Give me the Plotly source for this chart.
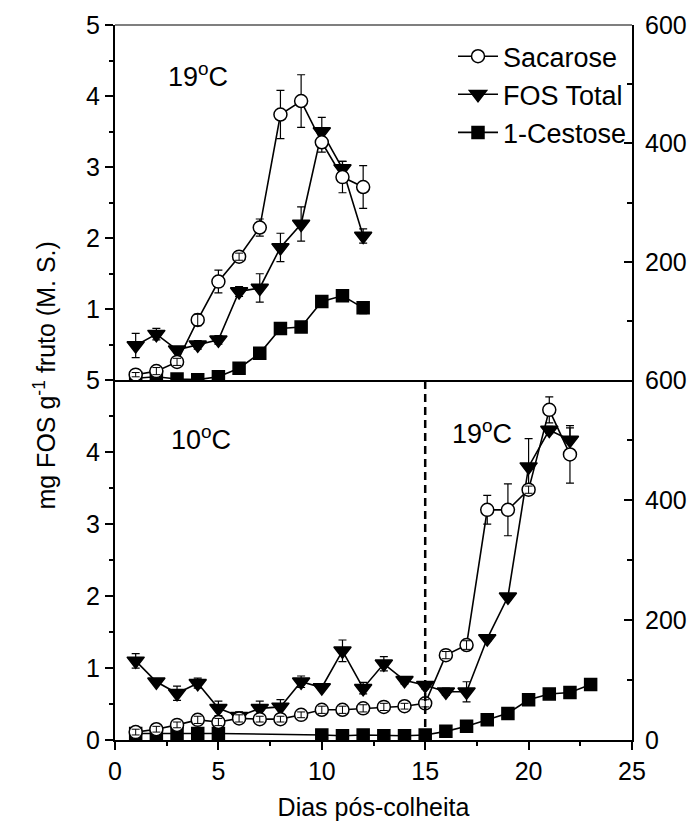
import plotly.graph_objects as go

# ---------------- data: 19 °C storage (upper panel) ----------------
days_top = [1, 2, 3, 4, 5, 6, 7, 8, 9, 10, 11, 12]
sacarose_top = [0.08, 0.13, 0.26, 0.85, 1.39, 1.74, 2.15, 3.74, 3.93, 3.35, 2.86, 2.72]
sacarose_top_err = [0.03, 0.05, 0.05, 0.08, 0.16, 0.05, 0.12, 0.34, 0.37, 0.14, 0.22, 0.30]
fos_top = [0.49, 0.65, 0.43, 0.50, 0.57, 1.25, 1.30, 1.87, 2.20, 3.50, 2.98, 2.03]
fos_top_err = [0.17, 0.08, 0.04, 0.06, 0.06, 0.07, 0.20, 0.20, 0.24, 0.20, 0.10, 0.10]
cestose_top = [0.03, 0.05, 0.02, 0.01, 0.05, 0.17, 0.38, 0.73, 0.75, 1.11, 1.19, 1.02]
cestose_top_err = [0.0, 0.0, 0.0, 0.0, 0.0, 0.0, 0.0, 0.03, 0.0, 0.04, 0.03, 0.08]

# ---------------- data: 10 °C then 19 °C (lower panel) ----------------
days_bot = [1, 2, 3, 4, 5, 6, 7, 8, 9, 10, 11, 12, 13, 14, 15, 16, 17, 18, 19, 20, 21, 22]
sacarose_bot = [0.11, 0.15, 0.21, 0.28, 0.25, 0.30, 0.29, 0.29, 0.35, 0.42, 0.42, 0.44,
                0.46, 0.47, 0.51, 1.18, 1.32, 3.20, 3.20, 3.48, 4.59, 3.97]
sacarose_bot_err = [0.04, 0.04, 0.04, 0.05, 0.05, 0.05, 0.04, 0.04, 0.04, 0.05, 0.05, 0.05,
                    0.05, 0.04, 0.05, 0.05, 0.06, 0.20, 0.36, 0.05, 0.18, 0.40]
fos_bot = [1.10, 0.81, 0.65, 0.79, 0.44, 0.33, 0.44, 0.46, 0.81, 0.73, 1.24, 0.72,
           1.06, 0.83, 0.76, 0.67, 0.67, 1.41, 1.99, 3.80, 4.31, 4.17]
fos_bot_err = [0.10, 0.03, 0.10, 0.07, 0.10, 0.06, 0.10, 0.10, 0.08, 0.03, 0.15, 0.08,
               0.10, 0.05, 0.05, 0.05, 0.14, 0.04, 0.03, 0.39, 0.05, 0.17]
days_cestose_bot = [1, 2, 3, 4, 5, 10, 11, 12, 13, 14, 15, 16, 17, 18, 19, 20, 21, 22, 23]
cestose_bot = [0.09, 0.09, 0.09, 0.09, 0.09, 0.07, 0.06, 0.07, 0.06, 0.06, 0.07, 0.12,
               0.19, 0.28, 0.37, 0.56, 0.64, 0.66, 0.77]

transfer_day = 15  # fruit moved from 10 °C to 19 °C

FONT = "Liberation Sans, Arial, sans-serif"
BLACK = "black"

fig = go.Figure()


def add_series(x, y, err, name, symbol, fill, size, xa, ya, legend):
    fig.add_trace(go.Scatter(
        x=x, y=y, name=name, mode="lines+markers", showlegend=legend,
        xaxis=xa, yaxis=ya,
        line=dict(color=BLACK, width=1.6),
        marker=dict(symbol=symbol, size=size, color=fill,
                    line=dict(color=BLACK, width=1.5)),
        error_y=dict(type="data", array=err, visible=err is not None,
                     color=BLACK, thickness=1.2, width=4),
    ))


def add_inner_bars(x, y, err, xa, ya, limit=0.09):
    # short error bars stay visible inside the open circles
    sel = [i for i, e in enumerate(err) if e < limit]
    fig.add_trace(go.Scatter(
        x=[x[i] for i in sel], y=[y[i] for i in sel], mode="markers",
        showlegend=False, hoverinfo="skip", xaxis=xa, yaxis=ya,
        marker=dict(size=2, color="rgba(0,0,0,0)"),
        error_y=dict(type="data", array=[err[i] for i in sel], visible=True,
                     color=BLACK, thickness=1, width=4),
    ))


# upper panel (x2 / y2)
add_series(days_top, cestose_top, cestose_top_err, "1-Cestose", "square", BLACK, 12, "x2", "y2", True)
add_series(days_top, fos_top, fos_top_err, "FOS Total", "triangle-down", BLACK, 15, "x2", "y2", True)
add_series(days_top, sacarose_top, sacarose_top_err, "Sacarose", "circle", "white", 13, "x2", "y2", True)
add_inner_bars(days_top, sacarose_top, sacarose_top_err, "x2", "y2")

# lower panel (x / y)
add_series(days_cestose_bot, cestose_bot, None, "1-Cestose", "square", BLACK, 12, "x", "y", False)
add_series(days_bot, fos_bot, fos_bot_err, "FOS Total", "triangle-down", BLACK, 15, "x", "y", False)
add_series(days_bot, sacarose_bot, sacarose_bot_err, "Sacarose", "circle", "white", 13, "x", "y", False)
add_inner_bars(days_bot, sacarose_bot, sacarose_bot_err, "x", "y")

# empty traces so the secondary (right) scales are drawn
fig.add_trace(go.Scatter(x=[], y=[], xaxis="x2", yaxis="y3", showlegend=False))
fig.add_trace(go.Scatter(x=[], y=[], xaxis="x", yaxis="y4", showlegend=False))

tick_font = dict(family=FONT, size=25, color=BLACK)
split = 0.503

common_y = dict(range=[0, 5], showline=True, linecolor=BLACK, linewidth=2,
                ticks="outside", ticklen=8, tickwidth=1.5, tickcolor=BLACK,
                showgrid=False, zeroline=False, tickfont=tick_font, automargin=False,
                minor=dict(tickmode="array", tickvals=[0.5, 1.5, 2.5, 3.5, 4.5],
                           ticks="outside", ticklen=4, tickwidth=1.5, tickcolor=BLACK,
                           showgrid=False))
common_r = dict(range=[0, 600], side="right", showline=True, linecolor=BLACK, linewidth=2,
                ticks="inside", ticklen=8, tickwidth=1.5, tickcolor=BLACK,
                ticklabelstandoff=6, automargin=False,
                showgrid=False, zeroline=False, tickfont=tick_font,
                minor=dict(tickmode="array", tickvals=[100, 300, 500],
                           ticks="inside", ticklen=5, tickwidth=1.5, tickcolor=BLACK,
                           showgrid=False))

fig.update_layout(
    width=697, height=840,
    margin=dict(l=115, r=65, t=25, b=100),
    paper_bgcolor="white", plot_bgcolor="white",
    font=dict(family=FONT, color=BLACK),
    showlegend=True,
    legend=dict(x=1.0, xanchor="right", y=0.99, yanchor="top",
                traceorder="reversed", bgcolor="rgba(0,0,0,0)",
                font=dict(family=FONT, size=27, color=BLACK),
                itemwidth=40, tracegroupgap=0),
    xaxis=dict(domain=[0, 1], anchor="y", range=[0, 25],
               tickmode="linear", tick0=0, dtick=5, automargin=False,
               showline=True, linecolor=BLACK, linewidth=2,
               ticks="outside", ticklen=8, tickwidth=1.5, tickcolor=BLACK,
               showgrid=False, zeroline=False, tickfont=tick_font,
               minor=dict(tickmode="linear", tick0=0, dtick=2.5, ticks="outside",
                          ticklen=4, tickwidth=1.5, tickcolor=BLACK, showgrid=False),
               title=dict(text="Dias pós-colheita", standoff=14,
                          font=dict(family=FONT, size=25, color=BLACK))),
    xaxis2=dict(domain=[0, 1], anchor="y2", matches="x", range=[0, 25],
                showline=True, linecolor=BLACK, linewidth=2, ticks="",
                showticklabels=False, showgrid=False, zeroline=False),
    yaxis=dict(domain=[0, split], anchor="x",
               tickmode="array", tickvals=[0, 1, 2, 3, 4, 5], **common_y),
    yaxis2=dict(domain=[split, 1], anchor="x2",
                tickmode="array", tickvals=[1, 2, 3, 4, 5], **common_y),
    yaxis3=dict(overlaying="y2", anchor="x2",
                tickmode="array", tickvals=[200, 400, 600], **common_r),
    yaxis4=dict(overlaying="y", anchor="x",
                tickmode="array", tickvals=[0, 200, 400, 600], **common_r),
)

# thin frame line along the top of the upper panel
fig.add_shape(type="line", xref="paper", yref="paper", x0=0, x1=1, y0=1, y1=1,
              line=dict(color="#555555", width=1.5))

# change of storage temperature
fig.add_shape(type="line", xref="x", yref="y domain", x0=transfer_day, x1=transfer_day,
              y0=0, y1=1, line=dict(color=BLACK, width=2.5, dash="8px,5px"))

label_font = dict(family=FONT, size=27, color=BLACK)
fig.add_annotation(x=4.0, y=4.3, xref="x2", yref="y2", text="19<sup>o</sup>C",
                   showarrow=False, font=label_font)
fig.add_annotation(x=4.17, y=4.2, xref="x", yref="y", text="10<sup>o</sup>C",
                   showarrow=False, font=label_font)
fig.add_annotation(x=17.77, y=4.28, xref="x", yref="y", text="19<sup>o</sup>C",
                   showarrow=False, font=label_font)

fig.add_annotation(x=-0.135, y=0.51, xref="paper", yref="paper",
                   text="mg FOS g<sup>-1</sup> fruto (M. S.)", textangle=-90,
                   showarrow=False, xanchor="center", yanchor="middle",
                   font=dict(family=FONT, size=25, color=BLACK))

fig.write_html("out.html")
